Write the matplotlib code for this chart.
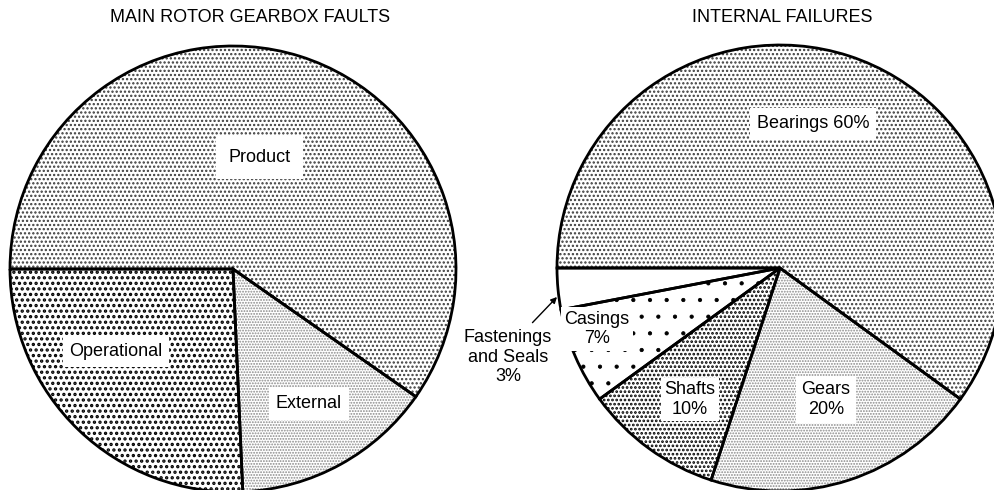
import matplotlib
matplotlib.use("Agg")
import matplotlib.pyplot as plt

plt.rcParams['font.family'] = ['Liberation Sans', 'DejaVu Sans']

# Left pie: main rotor gearbox faults (clockwise from 9 o'clock)
fault_labels = ['Product', 'External', 'Operational']
fault_values = [59.7, 14.6, 25.7]
fault_hatches = ['....', '......', '...']
fault_colors = ['#3a3a3a', '#8a8a8a', 'black']
fault_hlw = [1.1, 0.9, 1.6]

# Right pie: internal failures (clockwise from 9 o'clock)
fail_labels = ['Bearings 60%', 'Gears\n20%', 'Shafts\n10%', 'Casings\n7%', '']
fail_values = [60, 20, 10, 7, 3]
fail_hatches = ['....', '......', '....', '.', '']
fail_colors = ['#3a3a3a', '#8a8a8a', 'black', 'black', 'white']
fail_hlw = [1.1, 0.9, 1.3, 0.6, 1.0]

W, H = 994, 490
R = 223  # pie radius in pixels

fig = plt.figure(figsize=(W / 100, H / 100), dpi=100)


def pie_axes(cx, cy):
    return fig.add_axes([(cx - R) / W, (H - cy - R) / H, 2 * R / W, 2 * R / H])


def draw_pie(ax, values, hatches, colors, hlws):
    wedges, _ = ax.pie(values, startangle=180, counterclock=False, radius=1,
                       wedgeprops=dict(facecolor='white', linewidth=0))
    for w, h, c, lw in zip(wedges, hatches, colors, hlws):
        w.set_edgecolor(c)
        w.set_hatch(h)
        w.set_linewidth(0)
        if hasattr(w, 'set_hatch_linewidth'):
            w.set_hatch_linewidth(lw)
        else:
            w._hatch_linewidth = lw
    # outlines on top
    ax.pie(values, startangle=180, counterclock=False, radius=1,
           wedgeprops=dict(fill=False, edgecolor='black', linewidth=2.0))
    ax.set_xlim(-1, 1)
    ax.set_ylim(-1, 1)
    ax.axis('off')


def box(pad):
    return dict(facecolor='white', edgecolor='none', boxstyle='square,pad=%s' % pad)


fs = 13

ax1 = pie_axes(233, 269)
draw_pie(ax1, fault_values, fault_hatches, fault_colors, fault_hlw)
ax1.text(0.12, 0.50, fault_labels[0], ha='center', va='center', fontsize=fs, bbox=box(0.7))
ax1.text(0.34, -0.605, fault_labels[1], ha='center', va='center', fontsize=fs, bbox=box(0.4))
ax1.text(-0.525, -0.372, fault_labels[2], ha='center', va='center', fontsize=fs, bbox=box(0.35))

ax2 = pie_axes(780, 268)
draw_pie(ax2, fail_values, fail_hatches, fail_colors, fail_hlw)
ax2.text(0.148, 0.646, fail_labels[0], ha='center', va='center', fontsize=fs, bbox=box(0.4))
ax2.text(0.206, -0.59, fail_labels[1], ha='center', va='center', fontsize=fs,
         bbox=box(0.3), linespacing=1.2)
ax2.text(-0.404, -0.59, fail_labels[2], ha='center', va='center', fontsize=fs,
         bbox=box(0.2), linespacing=1.2)
ax2.text(-0.82, -0.274, fail_labels[3], ha='center', va='center', fontsize=fs,
         bbox=box(0.2), linespacing=1.2)
ax2.text(-1.22, -0.40, 'Fastenings\nand Seals\n3%', ha='center', va='center',
         fontsize=fs, linespacing=1.2)
ax2.annotate('', xy=(-1.0, -0.13), xytext=(-1.11, -0.245),
             arrowprops=dict(arrowstyle='-|>', color='black', lw=1.0,
                             mutation_scale=9, shrinkA=0, shrinkB=0),
             annotation_clip=False)

fig.text(250 / W, 1 - 17 / H, 'MAIN ROTOR GEARBOX FAULTS', ha='center', va='center', fontsize=13)
fig.text(782 / W, 1 - 17 / H, 'INTERNAL FAILURES', ha='center', va='center', fontsize=13)

fig.savefig('out.png', dpi=100)
